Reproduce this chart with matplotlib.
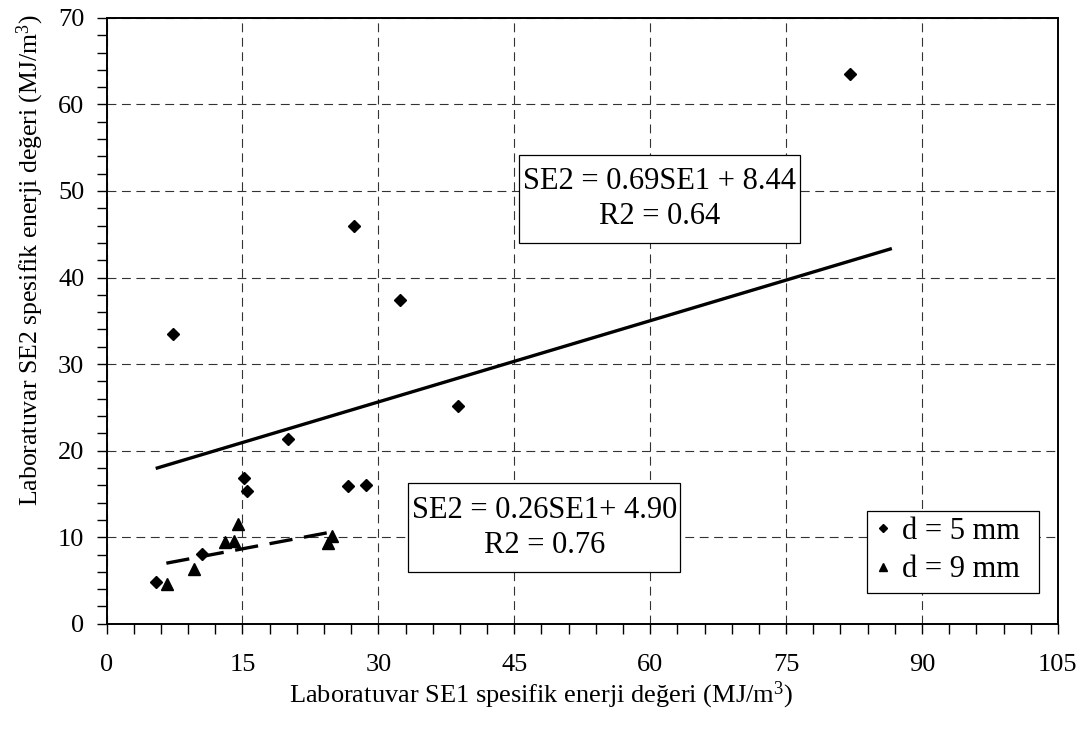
import matplotlib
matplotlib.use("Agg")
import matplotlib.pyplot as plt
from matplotlib.patches import Rectangle
from matplotlib.ticker import MultipleLocator

# ---- data ----
se1_d5 = [5.5, 10.5, 15.2, 15.5, 20.0, 26.6, 28.6, 7.3, 27.3, 32.4, 38.8, 82.1]
se2_d5 = [4.8, 8.1, 16.9, 15.3, 21.4, 15.9, 16.0, 33.5, 46.0, 37.4, 25.2, 63.5]
se1_d9 = [6.7, 9.7, 13.1, 14.1, 14.5, 24.4, 24.9]
se2_d9 = [4.6, 6.3, 9.5, 9.6, 11.5, 9.3, 10.1]

fit_d5_x = [5.6, 86.5]
fit_d5_y = [18.0, 43.3]
fit_d9_x = [6.6, 24.3]
fit_d9_y = [7.0, 10.5]

eq_d5 = "SE2 = 0.69SE1 + 8.44\nR2 = 0.64"
eq_d9 = "SE2 = 0.26SE1+ 4.90\nR2 = 0.76"
legend_labels = ["d = 5 mm", "d = 9 mm"]
xlabel = "Laboratuvar SE1 spesifik enerji değeri (MJ/m$^{3}$)"
ylabel = "Laboratuvar SE2 spesifik enerji değeri (MJ/m$^{3}$)"
x_ticks = [0, 15, 30, 45, 60, 75, 90, 105]
y_ticks = [0, 10, 20, 30, 40, 50, 60, 70]

plt.rcParams["font.family"] = ["Liberation Serif", "DejaVu Serif"]
plt.rcParams["mathtext.fontset"] = "custom"
plt.rcParams["mathtext.rm"] = "Liberation Serif"
plt.rcParams["mathtext.it"] = "Liberation Serif:italic"

fig = plt.figure(figsize=(10.84, 7.33), dpi=100)
ax = fig.add_axes([0.0983, 0.149, 0.8776, 0.8266])

ax.set_xlim(0, 105)
ax.set_ylim(0, 70)
ax.set_xticks(x_ticks)
ax.set_yticks(y_ticks)
ax.xaxis.set_minor_locator(MultipleLocator(3))
ax.yaxis.set_minor_locator(MultipleLocator(2))
ax.tick_params(axis="both", which="both", direction="out", length=7, width=1.0,
               color="black", labelsize=19)
ax.tick_params(axis="x", which="major", pad=15)
ax.tick_params(axis="y", which="major", pad=9)
for sp in ax.spines.values():
    sp.set_linewidth(1.4)
    sp.set_color("black")

ax.grid(True, which="major", color="#333333", linewidth=0.8,
        linestyle=(0, (8, 5)))
ax.set_axisbelow(True)

ax.plot(fit_d5_x, fit_d5_y, color="black", linewidth=2.4, zorder=3)
ax.plot(fit_d9_x, fit_d9_y, color="black", linewidth=2.4,
        linestyle=(0, (7, 3.5)), zorder=3)

ax.plot(se1_d5, se2_d5, linestyle="none", marker="D", markersize=6.3,
        color="black", label=legend_labels[0], zorder=4)
ax.plot(se1_d9, se2_d9, linestyle="none", marker="^", markersize=9,
        color="black", label=legend_labels[1], zorder=4)

# equation boxes
ax.add_patch(Rectangle((45.5, 43.95), 31.0, 10.25, facecolor="white",
                       edgecolor="black", linewidth=0.9, zorder=5))
ax.text(61.0, 49.1, eq_d5, ha="center", va="center", fontsize=22,
        linespacing=1.28, zorder=6)
ax.add_patch(Rectangle((33.3, 6.0), 30.0, 10.25, facecolor="white",
                       edgecolor="black", linewidth=0.9, zorder=5))
ax.text(48.3, 11.1, eq_d9, ha="center", va="center", fontsize=22,
        linespacing=1.28, zorder=6)

# legend frame + legend entries
ax.add_patch(Rectangle((0.7995, 0.0503), 0.9806 - 0.7995, 0.1867 - 0.0503,
                       transform=ax.transAxes, facecolor="white",
                       edgecolor="black", linewidth=0.9, zorder=6))
leg = ax.legend(loc="upper left", bbox_to_anchor=(0.807, 0.176),
                fontsize=22, frameon=False, markerscale=0.62,
                handlelength=0.6, handletextpad=0.3, borderpad=0,
                labelspacing=0.3, borderaxespad=0)
leg.set_zorder(7)

ax.set_xlabel(xlabel, fontsize=19)
ax.set_ylabel(ylabel, fontsize=18.5)
ax.xaxis.set_label_coords(0.457, -0.092)
ax.yaxis.set_label_coords(-0.064, 0.6)

fig.savefig("out.png", dpi=100)
